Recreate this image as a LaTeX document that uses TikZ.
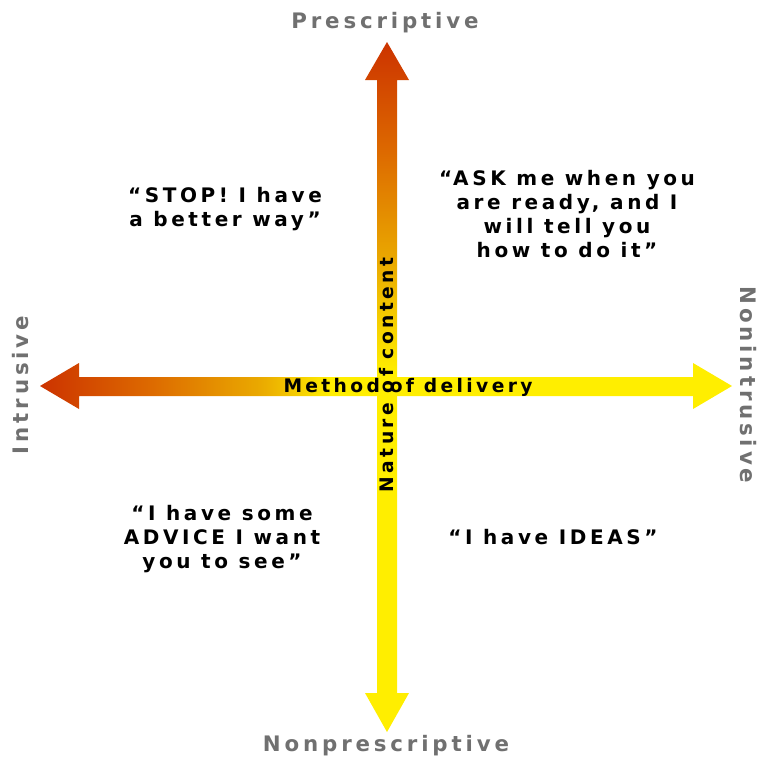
\documentclass[tikz,border=0pt]{standalone}
\usepackage{fontspec}
\newfontfamily\labfont[LetterSpace=18]{DejaVu Sans}
\definecolor{cred}{HTML}{CC3300}
\definecolor{corange}{HTML}{DD6A00}
\definecolor{cgold}{HTML}{EAAA00}
\definecolor{cyellow}{HTML}{FFEE00}
\definecolor{cgray}{HTML}{707070}
\pgfdeclarehorizontalshading{hgrad}{100bp}{color(0bp)=(cred); color(25bp)=(cred); color(33bp)=(corange); color(41bp)=(cgold); color(46bp)=(cyellow); color(100bp)=(cyellow)}
\pgfdeclareverticalshading{vgrad}{100bp}{color(0bp)=(cyellow); color(51bp)=(cyellow); color(59bp)=(cgold); color(67bp)=(corange); color(75bp)=(cred); color(100bp)=(cred)}
\tikzset{
  quote/.style={font=\labfont\bfseries\fontsize{15}{18}\selectfont, align=center, text=black, inner sep=0pt},
  axislab/.style={font=\labfont\bfseries\fontsize{16}{19}\selectfont, text=cgray, inner sep=0pt},
  arrowlab/.style={font=\labfont\bfseries\fontsize{14}{16}\selectfont, text=black, inner sep=0pt},
}
\begin{document}
\begin{tikzpicture}[x=0.75pt,y=-0.75pt]
\useasboundingbox (0,0) rectangle (760,760);
% horizontal double arrow
\shade[shading=hgrad] (40,386) -- (79,363) -- (79,377) -- (693,377) -- (693,363) -- (732,386)
  -- (693,409) -- (693,396) -- (79,396) -- (79,409) -- cycle;
% vertical double arrow
\shade[shading=vgrad] (387,42) -- (409,80) -- (397,80) -- (397,693) -- (409,693) -- (387,732)
  -- (365,693) -- (377,693) -- (377,80) -- (365,80) -- cycle;
% axis labels
\node[axislab] (pre) at (385,23) {Prescriptive};
\node[axislab] (nonpre) at (386,746) {Nonprescriptive};
\node[axislab, rotate=90] (intr) at (21,385) {Intrusive};
\node[axislab, rotate=-90] (nonintr) at (748,385) {Nonintrusive};
% arrow labels
\node[arrowlab] (method) at (408,387) {Method of delivery};
\node[arrowlab, rotate=90] (nature) at (387,375) {Nature of content};
% quadrant quotes
\node[quote] (q1) at (225,209) {“STOP! I have\\a better way”};
\node[quote] (q2) at (567,214) {“ASK me when you\\are ready, and I\\will tell you\\how to do it”};
\node[quote] (q3) at (222,539) {“I have some\\ADVICE I want\\you to see”};
\node[quote] (q4) at (553,537) {“I have IDEAS”};
\end{tikzpicture}
\end{document}
